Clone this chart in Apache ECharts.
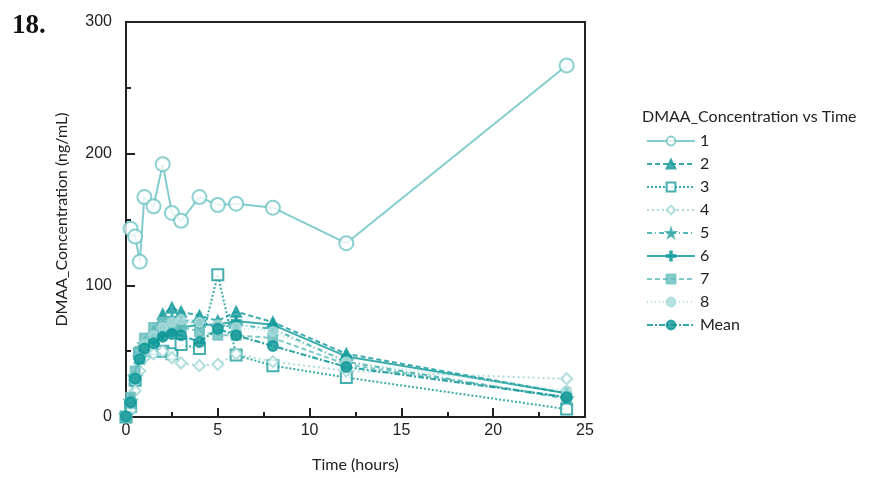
<!DOCTYPE html>
<html><head><meta charset="utf-8">
<script src="https://cdn.jsdelivr.net/npm/echarts@6/dist/echarts.min.js"></script>
<style>html,body{margin:0;padding:0;background:#fff}#c{width:876px;height:478px}</style>
</head><body><div id="c"></div>
<script>
const seriesNames = ['1','2','3','4','5','6','7','8','Mean'];
const times1 = [0.25,0.5,0.75,1,1.5,2,2.5,3,4,5,6,8,12,24];
const times = [0,0.25,0.5,0.75,1,1.5,2,2.5,3,4,5,6,8,12,24];
const s1 = [143,137,118,167,160,192,155,149,167,161,162,159,132,267];
const s2 = [2,15,32,45,55,65,78,83,80,77,73,80,72,48,18];
const s3 = [0,8,28,48,50,52,50,48,55,52,108,47,39,30,6];
const s4 = [0,5,20,35,45,48,50,45,41,39,40,48,42,35,29];
const s5 = [1,12,30,45,55,62,70,75,72,72,68,70,67,42,14];
const s6 = [0,10,30,48,55,58,62,65,68,70,70,73,70,46,18];
const s7 = [0,15,35,50,60,68,72,70,68,65,62,62,60,40,15];
const s8 = [0,10,28,45,55,62,68,72,74,72,70,68,65,42,20];
const sMean = [0.4,11,29,44,52,56,61,63,62,57,67,62,54,38,15];
const xTicks = [0,5,10,15,20,25];
const yTicks = [0,100,200,300];

const pair = (t, v) => t.map((x, i) => [x, v[i]]);
const plusPath = 'path://M4,0H6V4H10V6H6V10H4V6H0V4H4Z';
const styles = [
  {c:'#6fc4c4', type:'solid', sym:'emptyCircle', size:14, w:2},
  {c:'#1a9e9e', type:[5,3], sym:'triangle', size:10, w:2},
  {c:'#179b9b', type:[2,2], sym:'emptyRect', size:11, w:2},
  {c:'#9fd6d6', type:[2,3], sym:'emptyDiamond', size:11, w:2},
  {c:'#3aabab', type:[5,3,1,3], sym:'path://M5,0L6.2,3.6L10,3.6L7,5.9L8.1,9.5L5,7.3L1.9,9.5L3,5.9L0,3.6L3.8,3.6Z', size:11, w:2},
  {c:'#1a9e9e', type:'solid', sym:plusPath, size:9, w:2},
  {c:'#6cbfbf', type:[5,3], sym:'rect', size:9, w:2},
  {c:'#a8dada', type:[1,3], sym:'circle', size:9, w:2},
  {c:'#0f9797', type:[6,2,2,2], sym:'circle', size:10, w:2.2}
];
const data = [pair(times1,s1), pair(times,s2), pair(times,s3), pair(times,s4), pair(times,s5), pair(times,s6), pair(times,s7), pair(times,s8), pair(times,sMean)];

const series = seriesNames.map((n, i) => ({
  name: n, type: 'line', data: data[i],
  symbol: styles[i].sym, symbolSize: styles[i].size,
  lineStyle: {color: styles[i].c, width: styles[i].w, type: styles[i].type, opacity: 0.85},
  itemStyle: {color: styles[i].c, borderColor: styles[i].c, borderWidth: 2, opacity: 0.8},
  z: i === 0 ? 3 : 2
}));

const chart = echarts.init(document.getElementById('c'));
chart.setOption({
  animation: false,
  title: [
    {text: '18.', left: 7, top: 8, textStyle: {fontFamily: 'Liberation Serif', fontWeight: 'bold', fontSize: 27, color: '#111'}},
    {text: 'DMAA_Concentration vs Time', left: 637, top: 104, textStyle: {fontFamily: 'Lato', fontWeight: 'normal', fontSize: 16, color: '#222'}}
  ],
  grid: {left: 126, right: 291, top: 22, bottom: 58, show: true, borderColor: '#222', borderWidth: 2},
  legend: {
    orient: 'vertical', left: 641, top: 127, itemWidth: 48, itemHeight: 11, itemGap: 5,
    textStyle: {fontFamily: 'Lato', fontSize: 16, color: '#222', lineHeight: 18},
    data: seriesNames
  },
  xAxis: {
    type: 'value', min: 0, max: 25, interval: 5,
    name: 'Time (hours)', nameLocation: 'middle', nameGap: 40,
    nameTextStyle: {fontFamily: 'Lato', fontSize: 16, color: '#222'},
    axisLine: {lineStyle: {color: '#222', width: 2}},
    axisTick: {inside: true, length: 9, lineStyle: {color: '#222', width: 2}},
    minorTick: {show: true, splitNumber: 2, length: 5, lineStyle: {color: '#222', width: 2}},
    splitLine: {show: false},
    axisLabel: {fontFamily: 'Liberation Sans', fontSize: 16, color: '#222', margin: 6,
      formatter: v => xTicks.includes(v) ? String(v) : ''}
  },
  yAxis: {
    type: 'value', min: 0, max: 300, interval: 100,
    name: 'DMAA_Concentration (ng/mL)', nameLocation: 'middle', nameGap: 56,
    nameTextStyle: {fontFamily: 'Lato', fontSize: 16, color: '#222'},
    axisLine: {show: true, lineStyle: {color: '#222', width: 2}},
    axisTick: {show: true, inside: true, length: 9, lineStyle: {color: '#222', width: 2}},
    minorTick: {show: true, splitNumber: 2, length: 5, lineStyle: {color: '#222', width: 2}},
    splitLine: {show: false},
    axisLabel: {fontFamily: 'Liberation Sans', fontSize: 16, color: '#222', margin: 14,
      formatter: v => yTicks.includes(v) ? String(v) : ''}
  },
  series: series
});
</script></body></html>
